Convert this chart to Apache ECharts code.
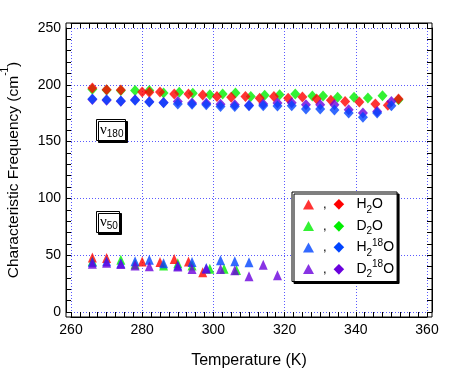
<!DOCTYPE html>
<html><head><meta charset="utf-8">
<script src="https://cdn.jsdelivr.net/npm/echarts@6/dist/echarts.min.js"></script>
<style>html,body{margin:0;padding:0;background:#fff}#c{width:454px;height:369px}</style>
</head><body><div id="c"></div>
<script>
// ν180 band (diamonds): [temperature K, frequency cm-1]
const h2oNu180 = [[266,197.2],[270,195.7],[274,195.4],[280,193.7],[282,193.4],[285,193.7],[289,191.9],[293,191.9],[297,191],[301,189.8],[305,189],[309,189.8],[313,188.1],[317,189.8],[321,188.1],[325,189.3],[329,187.5],[333,186.3],[337,185.4],[341,184.9],[345.5,183.1],[349,181.9],[352,187.5]];
const d2oNu180 = [[266,196],[270,195.5],[274,195],[278,195],[282,195],[286,192.8],[290.4,193.4],[294.2,192.5],[299,191.3],[302.6,191.9],[306.2,192.8],[310.5,189.8],[314.4,190.7],[318.6,191.3],[323,191.9],[327.8,190.1],[330.8,190.1],[334.9,189],[339.5,189],[343.4,188.4],[347.5,190.4],[352,186.9]];
const h218oNu180 = [[266,187.5],[270,186.9],[274,185.7],[278,186.3],[282,184.9],[286,184.3],[290,183.1],[294,182.8],[298,182.5],[302,181],[306,181],[310,181.6],[314,181.6],[318,181.3],[322,181.6],[326,178.7],[330,178.7],[334,177.8],[338,175.2],[342,171.4],[346,175.2],[350,181.6]];
const d218oNu180 = [[266,187],[270,186.5],[274,185.5],[278,186.9],[282,185],[286,184.5],[290,185.2],[294,184],[298,183.7],[302,182.8],[306,182.5],[310,182],[314,183.1],[318,184],[322,184.3],[326,182.5],[330,182.5],[334,182.5],[338,178.1],[342,175.2],[346,176.6],[350,185.4]];
// ν50 band (triangles)
const h2oNu50 = [[266,48],[270,47.5],[280,44.5],[285,44],[289,46.6],[293,44.5],[297,35]];
const d2oNu50 = [[266,45],[274,46],[278,42],[286,41],[290,43],[294,41],[299,38],[303,38],[306.5,37]];
const h218oNu50 = [[266,44],[270,44.6],[274,43],[278,44.6],[282,46],[286,43],[290,41],[294,44],[298,38.7],[302,45.5],[306,44.6],[310,43.7]];
const d218oNu50 = [[266,42.5],[270,43.4],[274,42.3],[278,41],[282,40.2],[290,40],[294,37.9],[298,38.1],[302,37.9],[306,36.7],[310,31.4],[314,41.5],[318,32.3]];

const seriesNames = ['H2O','D2O','H218O','D218O'];
const seriesColors = {'H2O':'#ff0000','D2O':'#00ee00','H218O':'#0044ff','D218O':'#6a00dd'};
const legendText = {
  'H2O':'{c|,}{dR|◆}{m|H}{sub|2}{m|O}',
  'D2O':'{c|,}{dG|◆}{m|D}{sub|2}{m|O}',
  'H218O':'{c|,}{dB|◆}{m|H}{sub|2}{sup|18}{m|O}',
  'D218O':'{c|,}{dP|◆}{m|D}{sub|2}{sup|18}{m|O}'
};
const xMin = 260, xMax = 360, xStep = 20;
const yMin = 0, yMax = 250, yStep = 50;

const chart = echarts.init(document.getElementById('c'), null, {renderer:'canvas'});
const black = '#000';
const gridCol = '#5a5aff';
function frameAxis(extra){
  return Object.assign({
    gridIndex:1, type:'value', offset:5,
    axisLine:{show:true, onZero:false, lineStyle:{color:black, width:1}},
    axisTick:{show:true, inside:true, length:5, lineStyle:{color:black}},
    minorTick:{show:true, length:5, lineStyle:{color:black}},
    axisLabel:{show:false},
    splitLine:{show:false}
  }, extra);
}
const diamondSeries = [
  ['D2O', d2oNu180], ['H2O', h2oNu180], ['D218O', d218oNu180], ['H218O', h218oNu180]
];
const triSeries = [
  ['D2O', d2oNu50], ['H2O', h2oNu50], ['H218O', h218oNu50], ['D218O', d218oNu50]
];
const series = [];
diamondSeries.forEach(([n, d]) => series.push({
  type:'scatter', name:n + ' v180', xAxisIndex:1, yAxisIndex:1, symbol:'diamond', symbolSize:[10,11],
  itemStyle:{color:seriesColors[n]}, data:d, animation:false
}));
triSeries.forEach(([n, d]) => series.push({
  type:'scatter', name:n, xAxisIndex:1, yAxisIndex:1, symbol:'triangle', symbolSize:[9,10],
  itemStyle:{color:seriesColors[n]}, data:d, animation:false
}));

const nuRich = {
  n:{fontFamily:'Liberation Serif', fontSize:15, lineHeight:18, color:black, fontWeight:'normal'},
  s:{fontFamily:'Liberation Sans', fontSize:10, lineHeight:10, padding:[8,0,0,0], color:black, fontWeight:'normal'}
};
function nuBox(txt, top){
  return {text:txt, left:96, top:top, padding:[2,2,2,4], backgroundColor:'#fff', borderColor:black, borderWidth:1,
    shadowColor:black, shadowBlur:0, shadowOffsetX:2, shadowOffsetY:2,
    textStyle:{fontWeight:'normal', fontSize:15, rich:nuRich}};
}
const dotted = {type:[1,2], color:gridCol, width:1};
const dia = c => ({fontFamily:'DejaVu Sans', fontSize:14, lineHeight:17, color:c, padding:[0,12,0,1]});

chart.setOption({
  backgroundColor:'#fff',
  animation:false,
  textStyle:{fontFamily:'Liberation Sans'},
  title:[nuBox('{n|ν}{s|180}', 119), nuBox('{n|ν}{s|50}', 211)],
  grid:[
    {left:66, right:22, top:23, bottom:52, show:true, borderColor:black, borderWidth:1, backgroundColor:'transparent', outerBoundsMode:'none', containLabel:false},
    {left:71, right:27, top:28, bottom:57, outerBoundsMode:'none', containLabel:false}
  ],
  xAxis:[
    {gridIndex:0, type:'value', min:0, max:1, show:false},
    frameAxis({position:'bottom', min:xMin, max:xMax, interval:xStep,
      name:'Temperature (K)', nameLocation:'middle', nameGap:36,
      nameTextStyle:{fontSize:16, lineHeight:16, color:black},
      minorTick:{show:true, splitNumber:8, length:5, lineStyle:{color:black}},
      axisLabel:{show:true, fontSize:14, color:black, margin:6},
      splitLine:{show:true, lineStyle:dotted}}),
    frameAxis({position:'top', min:xMin, max:xMax, interval:xStep,
      minorTick:{show:true, splitNumber:8, length:5, lineStyle:{color:black}}})
  ],
  yAxis:[
    {gridIndex:0, type:'value', min:0, max:1, show:false},
    frameAxis({position:'left', min:yMin, max:yMax, interval:yStep,
      name:'Characteristic Frequency (cm{sup|-1})', nameLocation:'middle', nameGap:40,
      nameTextStyle:{fontSize:15.5, lineHeight:18, color:black,
        rich:{sup:{fontSize:10, lineHeight:10, padding:[0,0,16,0], color:black}}},
      minorTick:{show:true, splitNumber:5, length:5, lineStyle:{color:black}},
      axisLabel:{show:true, fontSize:14, color:black, margin:5},
      splitLine:{show:true, lineStyle:dotted}}),
    frameAxis({position:'right', min:yMin, max:yMax, interval:yStep,
      minorTick:{show:true, splitNumber:5, length:5, lineStyle:{color:black}}})
  ],
  legend:{
    orient:'vertical', left:292, top:192, padding:[2,3,2,11], itemGap:0.5,
    itemWidth:11, itemHeight:10, icon:'triangle', selectedMode:false,
    backgroundColor:'#fff', borderColor:black, borderWidth:1,
    shadowColor:black, shadowBlur:0, shadowOffsetX:2, shadowOffsetY:2,
    data:seriesNames,
    formatter:n => legendText[n],
    textStyle:{color:black, fontSize:13, lineHeight:17,
      rich:{
        c:{fontSize:13, lineHeight:17, padding:[0,6,0,4], color:black},
        dR:dia(seriesColors['H2O']),
        dG:dia(seriesColors['D2O']),
        dB:dia(seriesColors['H218O']),
        dP:dia(seriesColors['D218O']),
        m:{fontSize:14, lineHeight:17, color:black},
        sub:{fontSize:10, lineHeight:2, padding:[11,0,0,0], color:black},
        sup:{fontSize:10, lineHeight:13, padding:[0,0,9,0], color:black}
      }}
  },
  series:series
});
</script></body></html>
